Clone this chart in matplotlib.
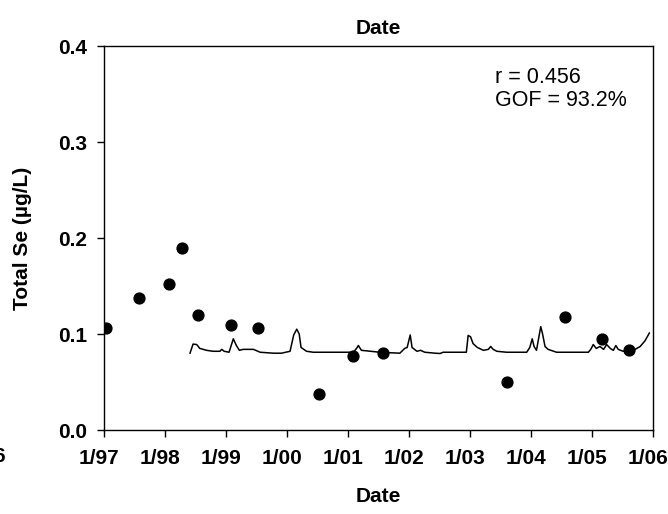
import matplotlib
matplotlib.use("Agg")
import matplotlib.pyplot as plt
from matplotlib.transforms import ScaledTranslation

# ---- data (decimal years) ----
obs_year = [1997.04, 1997.57, 1998.07, 1998.28, 1998.54, 1999.08, 1999.53,
            2000.52, 2001.09, 2001.58, 2003.60, 2004.55, 2005.16, 2005.61]
obs_se = [0.106, 0.138, 0.152, 0.190, 0.120, 0.109, 0.106,
          0.038, 0.077, 0.080, 0.050, 0.118, 0.095, 0.083]

model_year = [1998.41, 1998.46, 1998.52, 1998.57, 1998.68, 1998.79, 1998.90, 1998.93,
              1998.97, 1999.05, 1999.12, 1999.17, 1999.22, 1999.28, 1999.45, 1999.56,
              1999.78, 1999.91, 2000.05, 2000.11, 2000.16, 2000.20, 2000.23, 2000.32,
              2000.43, 2000.76, 2001.09, 2001.14, 2001.17, 2001.22, 2001.52, 2001.85,
              2001.93, 2001.97, 2002.02, 2002.05, 2002.13, 2002.19, 2002.26, 2002.43,
              2002.51, 2002.56, 2002.94, 2002.97, 2003.01, 2003.05, 2003.12, 2003.22,
              2003.30, 2003.34, 2003.38, 2003.44, 2003.60, 2003.93, 2003.98, 2004.02,
              2004.05, 2004.09, 2004.14, 2004.16, 2004.19, 2004.23, 2004.28, 2004.42,
              2004.94, 2004.98, 2005.02, 2005.07, 2005.13, 2005.19, 2005.24, 2005.30,
              2005.35, 2005.39, 2005.43, 2005.51, 2005.68, 2005.79, 2005.87, 2005.94]
model_se = [0.080, 0.0895, 0.089, 0.085, 0.083, 0.082, 0.082, 0.084,
            0.082, 0.081, 0.095, 0.088, 0.083, 0.084, 0.084, 0.081,
            0.080, 0.080, 0.082, 0.099, 0.105, 0.100, 0.086, 0.082,
            0.081, 0.081, 0.081, 0.085, 0.088, 0.083, 0.081, 0.080,
            0.085, 0.086, 0.099, 0.086, 0.082, 0.083, 0.081, 0.080,
            0.0797, 0.081, 0.081, 0.0986, 0.097, 0.090, 0.086, 0.083,
            0.084, 0.087, 0.084, 0.082, 0.081, 0.081, 0.086, 0.095,
            0.087, 0.083, 0.1007, 0.1076, 0.100, 0.087, 0.084, 0.081,
            0.081, 0.084, 0.089, 0.085, 0.087, 0.084, 0.089, 0.085,
            0.083, 0.088, 0.084, 0.082, 0.083, 0.087, 0.093, 0.101]

x_ticks = list(range(1997, 2007))
x_tick_labels = ["1/97", "1/98", "1/99", "1/00", "1/01", "1/02", "1/03", "1/04", "1/05", "1/06"]
y_ticks = [0.0, 0.1, 0.2, 0.3, 0.4]
y_tick_labels = ["0.0", "0.1", "0.2", "0.3", "0.4"]
stats_text = "r = 0.456\nGOF = 93.2%"

plt.rcParams['font.family'] = ['Liberation Sans', 'DejaVu Sans']

FS = 15
fig = plt.figure(figsize=(6.68, 5.14), dpi=100)
ax = fig.add_axes([104/668, 1-430/514, (653-104)/668, (430-46)/514])

ax.plot(model_year, model_se, color='black', lw=1.1)
ax.plot(obs_year, obs_se, 'o', color='black', markersize=7.8, mec='black')

ax.set_xlim(1997, 2006)
ax.set_ylim(0, 0.4)
ax.set_xticks(x_ticks)
ax.set_xticklabels(x_tick_labels, fontsize=FS, fontweight='bold')
ax.set_yticks(y_ticks)
ax.set_yticklabels(y_tick_labels, fontsize=FS, fontweight='bold')
ax.tick_params(axis='x', direction='out', length=5, width=1, pad=9)
ax.tick_params(axis='y', direction='out', length=5, width=1, pad=7)
for s in ax.spines.values():
    s.set_linewidth(1)

shift = ScaledTranslation(-5/100, 0, fig.dpi_scale_trans)
for lab in ax.get_xticklabels():
    lab.set_transform(lab.get_transform() + shift)

ax.set_xlabel("Date", fontsize=FS, fontweight='bold', labelpad=13)
ax.set_ylabel("Total Se (µg/L)", fontsize=FS, fontweight='bold', labelpad=19)
ax.set_title("Date", fontsize=FS, fontweight='bold', pad=9)

ax.text(0.713, 0.945, stats_text, transform=ax.transAxes, fontsize=15.5,
        va='top', ha='left', linespacing=1.1)

fig.text(5/668, 1-456/514, "6", fontsize=FS, fontweight='bold', ha='right', va='center')

fig.savefig("out.png", dpi=100)
